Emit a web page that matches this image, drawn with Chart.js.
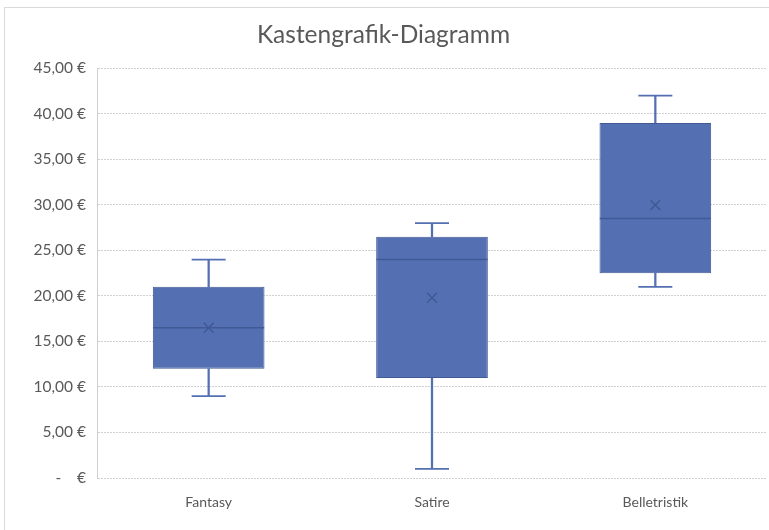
<!DOCTYPE html>
<html>
<head>
<meta charset="utf-8">
<script src="https://cdn.jsdelivr.net/npm/chart.js@4"></script>
<style>
  html, body { margin: 0; padding: 0; background: #fff; overflow: hidden; }
  #wrap { position: absolute; left: 0; top: 0; width: 769px; height: 530px; overflow: hidden; }
</style>
</head>
<body>
<div id="wrap"><canvas id="c" width="785" height="530"></canvas></div>
<script>
const categories = ['Fantasy', 'Satire', 'Belletristik'];
const minVals    = [9, 1, 21];
const q1Vals     = [12, 11, 22.5];
const medianVals = [16.5, 24, 28.5];
const q3Vals     = [21, 26.5, 39];
const maxVals    = [24, 28, 42];
const meanVals   = [16.5, 19.8, 30];
const yTicks     = [0, 5, 10, 15, 20, 25, 30, 35, 40, 45];

const FILL = '#5470B3';
const EDGE = '#415A96';
const FONT = 'Lato, "Open Sans", sans-serif';

const boxData = categories.map((c, i) => [q1Vals[i], q3Vals[i]]);
const lowWhisker = categories.map((c, i) => [minVals[i], q1Vals[i]]);
const highWhisker = categories.map((c, i) => [q3Vals[i], maxVals[i]]);

const frame = {
  id: 'frame',
  beforeDraw(chart) {
    const ctx = chart.ctx;
    ctx.save();
    ctx.fillStyle = '#fff';
    ctx.fillRect(0, 0, chart.width, chart.height);
    ctx.strokeStyle = '#d9d9d9';
    ctx.lineWidth = 1;
    ctx.beginPath();
    ctx.moveTo(4.5, chart.height);
    ctx.lineTo(4.5, 7.5);
    ctx.lineTo(chart.width, 7.5);
    ctx.stroke();
    ctx.restore();
  }
};

new Chart(document.getElementById('c'), {
  type: 'bar',
  data: {
    labels: categories,
    datasets: [
      { label: 'low', data: lowWhisker, backgroundColor: FILL, barThickness: 1.6, grouped: false, order: 5 },
      { label: 'high', data: highWhisker, backgroundColor: FILL, barThickness: 1.6, grouped: false, order: 5 },
      { label: 'box', data: boxData, backgroundColor: FILL, borderColor: EDGE, borderWidth: 1, borderSkipped: false,
        barPercentage: 0.5, categoryPercentage: 1.0, grouped: false, order: 3 },
      { type: 'line', label: 'minCap', data: minVals, showLine: false, pointStyle: 'line', pointRadius: 17,
        pointBorderWidth: 1.8, pointBorderColor: FILL, pointBackgroundColor: FILL, order: 2 },
      { type: 'line', label: 'maxCap', data: maxVals, showLine: false, pointStyle: 'line', pointRadius: 17,
        pointBorderWidth: 1.8, pointBorderColor: FILL, pointBackgroundColor: FILL, order: 2 },
      { type: 'line', label: 'median', data: medianVals, showLine: false, pointStyle: 'line', pointRadius: 55.5,
        pointBorderWidth: 1.5, pointBorderColor: EDGE, pointBackgroundColor: EDGE, order: 1 },
      { type: 'line', label: 'mean', data: meanVals, showLine: false, pointStyle: 'crossRot', pointRadius: 7,
        pointBorderWidth: 1.5, pointBorderColor: EDGE, pointBackgroundColor: EDGE, order: 1 }
    ]
  },
  options: {
    responsive: false,
    animation: false,
    events: [],
    layout: { autoPadding: false, padding: { left: 0, right: 18, top: 0, bottom: 0 } },
    plugins: {
      legend: { display: false },
      tooltip: { enabled: false },
      title: {
        display: true,
        text: 'Kastengrafik-Diagramm',
        color: '#595959',
        font: { family: FONT, size: 24.5, weight: 'normal' },
        padding: { top: 20, bottom: 19 }
      }
    },
    scales: {
      x: {
        offset: true,
        grid: { display: false, drawTicks: false },
        border: { display: false },
        ticks: { color: '#595959', font: { family: FONT, size: 14 }, padding: 16, maxRotation: 0 },
        afterFit(scale) { scale.height = 52; scale.paddingLeft = 0; scale.paddingRight = 0; }
      },
      y: {
        min: 0, max: 45,
        afterBuildTicks(scale) { scale.ticks = yTicks.map(v => ({ value: v })); },
        grid: { color: '#d0d0d0', lineWidth: 1, drawTicks: false },
        border: { display: true, color: '#d0d0d0', dash: [2, 1] },
        ticks: {
          color: '#595959', font: { family: FONT, size: 15.5 }, padding: 11,
          callback: v => v === 0 ? '-    €' : v.toFixed(2).replace('.', ',') + ' €'
        },
        afterFit(scale) { scale.width = 97; scale.paddingLeft = 0; scale.paddingRight = 0; }
      }
    }
  },
  plugins: [frame]
});
</script>
</body>
</html>
